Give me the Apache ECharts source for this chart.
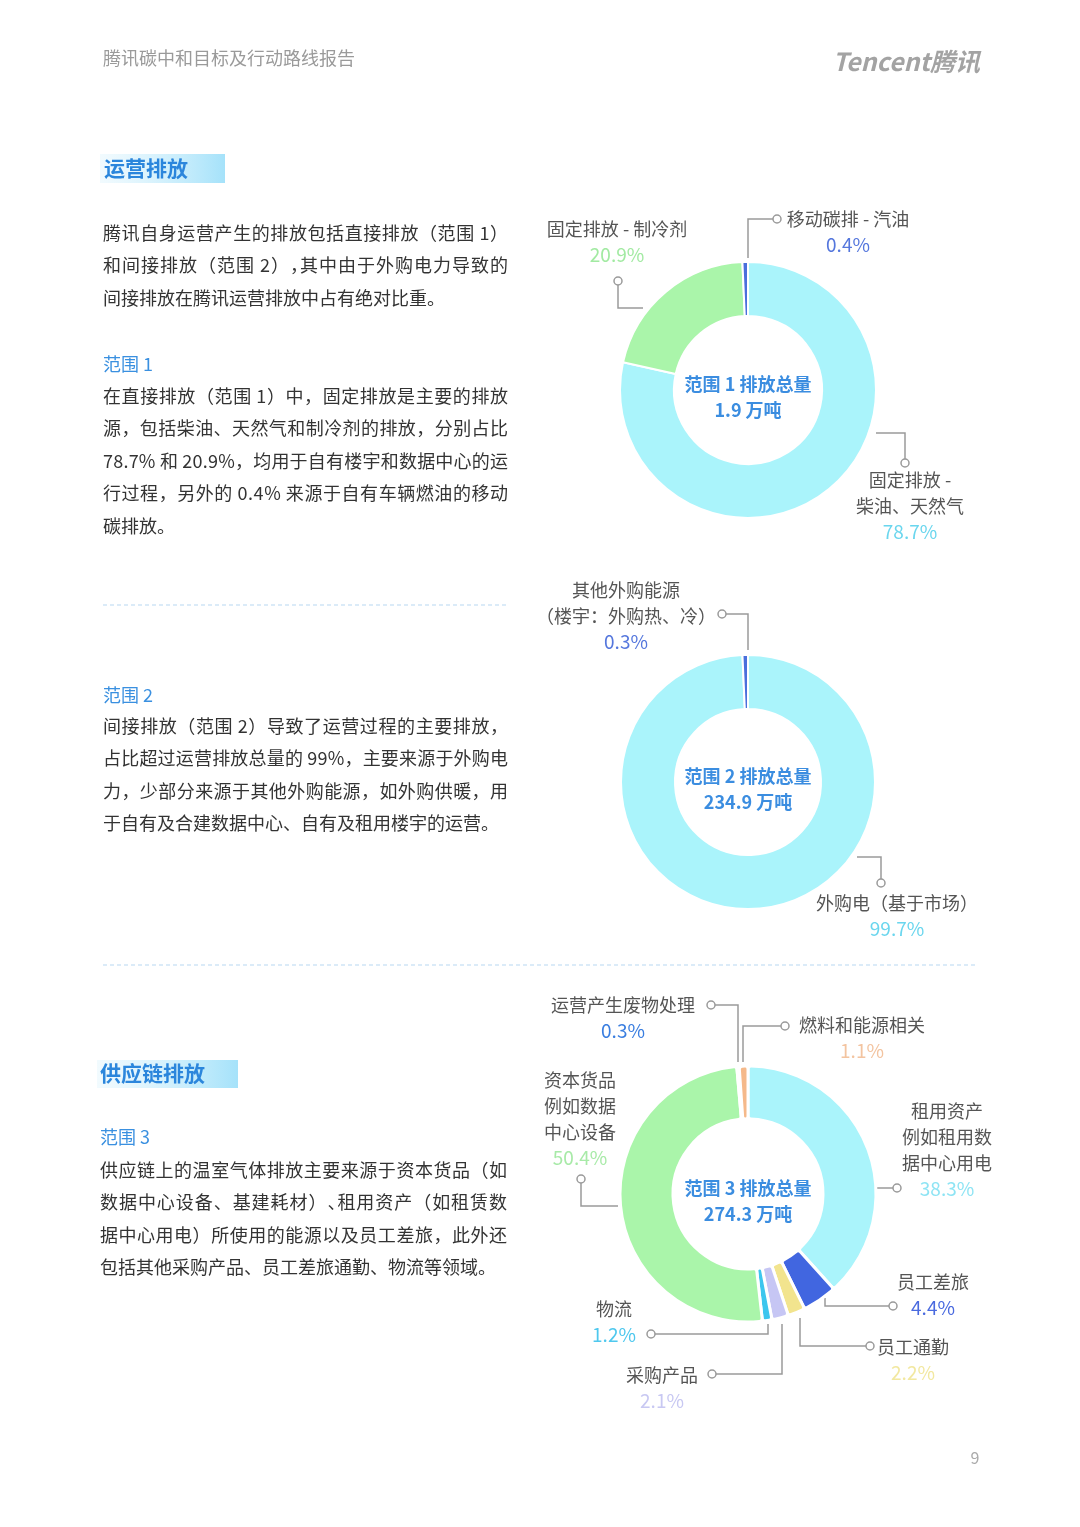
<!DOCTYPE html>
<html>
<head>
<meta charset="UTF-8">
<title>腾讯碳中和目标及行动路线报告</title>
<style>
  html, body { margin: 0; padding: 0; background: #fff; }
  #page { width: 1080px; height: 1527px; }
</style>
</head>
<body>
<div id="page"></div>
<script src="https://cdn.jsdelivr.net/npm/echarts@6/dist/echarts.min.js"></script>
<script>
// ---- data ----
var s1Names = ['固定排放 -\n柴油、天然气', '固定排放 - 制冷剂', '移动碳排 - 汽油'];
var s1Values = [78.7, 20.9, 0.4];
var s2Names = ['外购电（基于市场）', '其他外购能源\n（楼宇：外购热、冷）'];
var s2Values = [99.7, 0.3];
var s3Names = ['租用资产\n例如租用数\n据中心用电', '员工差旅', '员工通勤', '采购产品', '物流',
  '资本货品\n例如数据\n中心设备', '运营产生废物处理', '燃料和能源相关'];
var s3Values = [38.3, 4.4, 2.2, 2.1, 1.2, 50.4, 0.3, 1.1];
var scopeTitles = ['范围 1 排放总量', '范围 2 排放总量', '范围 3 排放总量'];
var scopeTotals = ['1.9 万吨', '234.9 万吨', '274.3 万吨'];

// ---- styles ----
var FONT = '"Noto Sans CJK SC", "Noto Sans", sans-serif';
var s1Colors = ['#aaf4fb', '#aaf5aa', '#4a6fdc'];
var s1Text = ['#6ad6ee', '#a2eaa2', '#5577dd'];
var s2Colors = ['#aaf4fb', '#4a6fdc'];
var s2Text = ['#6ad6ee', '#5577dd'];
var s3Colors = ['#aaf4fb', '#4166e0', '#f2e48e', '#c6c6f4', '#3cc6ee', '#aaf5aa', '#3b7de0', '#f5b98a'];
var s3Text = ['#8ee4f4', '#4a6adf', '#f2e8a0', '#c8c8f2', '#4fc8ee', '#a8eaa8', '#3a7ee0', '#f3c4a0'];

// label block [centerX, topY] and leader line [start, elbow, end]
var s1Lab = [[910, 467], [617, 216], [848, 206]];
var s1Line = [[[876, 433], [905, 433], [905, 463]], [[643, 308], [618, 308], [618, 281]], [[748, 258], [748, 219], [777, 219]]];
var s2Lab = [[897, 890], [626, 577]];
var s2Line = [[[857, 857], [881, 857], [881, 883]], [[748, 650], [748, 614], [722, 614]]];
var s3Lab = [[947, 1098], [933, 1269], [913, 1334], [662, 1362], [614, 1296], [580, 1067], [623, 992], [862, 1012]];
var s3Line = [
  [[877, 1188], [886, 1188], [897, 1188]],
  [[825, 1298], [825, 1306], [893, 1306]],
  [[800, 1318], [800, 1346], [870, 1346]],
  [[782, 1324], [782, 1374], [712, 1374]],
  [[768, 1324], [768, 1334], [651, 1334]],
  [[618, 1206], [581, 1206], [581, 1179]],
  [[738, 1062], [738, 1005], [711, 1005]],
  [[743, 1062], [743, 1026], [785, 1026]]
];

function makePie(names, values, colors, textColors, labPos, linePts, center, radius, extra) {
  var rich = { n: { fontSize: 18, color: '#555', lineHeight: 26, fontFamily: FONT } };
  textColors.forEach(function (c, i) {
    rich['v' + i] = { fontSize: 19, color: c, lineHeight: 26, fontFamily: FONT };
  });
  return {
    type: 'pie',
    center: center,
    radius: radius,
    startAngle: 90,
    clockwise: true,
    minAngle: extra.minAngle,
    avoidLabelOverlap: false,
    silent: true,
    itemStyle: { borderColor: '#fff', borderWidth: extra.border, borderRadius: extra.round },
    label: {
      show: true,
      position: 'outside',
      formatter: function (p) {
        return '{n|' + p.name.split('\n').join('}\n{n|') + '}\n{v' + p.dataIndex + '|' + p.value.toFixed(1) + '%}';
      },
      rich: rich
    },
    labelLine: { show: true, lineStyle: { color: '#9a9a9a', width: 1.5 } },
    labelLayout: function (p) {
      var i = p.dataIndex;
      return {
        x: labPos[i][0], y: labPos[i][1], align: 'center', verticalAlign: 'top',
        labelLinePoints: linePts[i], hideOverlap: false, moveOverlap: false
      };
    },
    data: names.map(function (n, i) {
      return { name: n, value: values[i], itemStyle: { color: colors[i] } };
    })
  };
}

// ---- page text ----
var graphics = [];
var measureCtx = document.createElement('canvas').getContext('2d');

function txt(x, y, s, size, color, weight, align) {
  graphics.push({
    type: 'text', x: x, y: y, z: 10,
    style: {
      text: s, fill: color, textAlign: align || 'left', textVerticalAlign: 'middle',
      font: (weight || 'normal') + ' ' + size + 'px ' + FONT
    }
  });
}
// justified paragraph: every line but the last is stretched to the right edge
function para(x, y0, right, lines) {
  var font = 'normal 18px ' + FONT;
  measureCtx.font = font;
  lines.forEach(function (line, li) {
    var y = y0 + li * 32.5;
    if (li === lines.length - 1) { txt(x, y, line, 18, '#333'); return; }
    var chars = Array.from(line);
    var natural = measureCtx.measureText(line).width;
    var gap = (right - x - natural) / (chars.length - 1);
    chars.forEach(function (ch, k) {
      var off = measureCtx.measureText(chars.slice(0, k).join('')).width;
      txt(x + off + k * gap, y, ch, 18, '#333');
    });
  });
}
function sectionBox(x, y, w, h) {
  graphics.push({
    type: 'rect', z: 1, shape: { x: x, y: y, width: w, height: h },
    style: {
      fill: new echarts.graphic.LinearGradient(0, 0, 1, 0, [
        { offset: 0, color: 'rgba(210,240,252,0.3)' },
        { offset: 1, color: 'rgba(165,226,250,1)' }
      ])
    }
  });
}
function dashed(x1, x2, y) {
  graphics.push({
    type: 'line', z: 1, shape: { x1: x1, y1: y, x2: x2, y2: y },
    style: { stroke: '#cfe5f6', lineWidth: 1.5, lineDash: [4, 3] }
  });
}

txt(103, 58, '腾讯碳中和目标及行动路线报告', 18, '#9a9a9a', 'normal');
graphics.push({
  type: 'text', x: 980, y: 61, z: 10,
  style: { text: 'Tencent腾讯', fill: '#a3a3a3', textAlign: 'right', textVerticalAlign: 'middle',
    font: 'italic bold 25px "Noto Sans CJK SC", sans-serif' }
});

sectionBox(100, 154, 125, 29);
txt(104, 168, '运营排放', 21, '#2b86dc', 'bold');

para(103, 233, 508, ['腾讯自身运营产生的排放包括直接排放（范围 1）',
  '和间接排放（范围 2），其中由于外购电力导致的',
  '间接排放在腾讯运营排放中占有绝对比重。']);

txt(103, 364, '范围 1', 18, '#3a90e0');
para(103, 396, 508, ['在直接排放（范围 1）中，固定排放是主要的排放',
  '源，包括柴油、天然气和制冷剂的排放，分别占比',
  '78.7% 和 20.9%，均用于自有楼宇和数据中心的运',
  '行过程，另外的 0.4% 来源于自有车辆燃油的移动',
  '碳排放。']);

dashed(103, 508, 605);

txt(103, 695, '范围 2', 18, '#3a90e0');
para(103, 726, 508, ['间接排放（范围 2）导致了运营过程的主要排放，',
  '占比超过运营排放总量的 99%，主要来源于外购电',
  '力，少部分来源于其他外购能源，如外购供暖，用',
  '于自有及合建数据中心、自有及租用楼宇的运营。']);

dashed(103, 978, 965);

sectionBox(97, 1060, 141, 28);
txt(100, 1073, '供应链排放', 21, '#2b86dc', 'bold');

txt(100, 1137, '范围 3', 18, '#3a90e0');
para(100, 1170, 507, ['供应链上的温室气体排放主要来源于资本货品（如',
  '数据中心设备、基建耗材）、租用资产（如租赁数',
  '据中心用电）所使用的能源以及员工差旅，此外还',
  '包括其他采购产品、员工差旅通勤、物流等领域。']);

// centre texts of the donuts
var centres = [[748, 390], [748, 782], [748, 1194]];
centres.forEach(function (c, i) {
  txt(c[0], c[1] - 6, scopeTitles[i], 18, '#3b8de0', 'bold', 'center');
  txt(c[0], c[1] + 20, scopeTotals[i], 18, '#3b8de0', 'bold', 'center');
});

// circle ends of leader lines
[s1Line, s2Line, s3Line].forEach(function (set) {
  set.forEach(function (pts) {
    graphics.push({
      type: 'circle', z: 20, shape: { cx: pts[2][0], cy: pts[2][1], r: 4 },
      style: { fill: '#fff', stroke: '#9a9a9a', lineWidth: 1.5 }
    });
  });
});

txt(975, 1458, '9', 16, '#aaa', 'normal', 'center');

var chart = echarts.init(document.getElementById('page'), null, { renderer: 'canvas' });
chart.setOption({
  animation: false,
  backgroundColor: '#fff',
  graphic: graphics,
  series: [
    makePie(s1Names, s1Values, s1Colors, s1Text, s1Lab, s1Line, [748, 390], [74, 128], { minAngle: 2.5, border: 2, round: 0 }),
    makePie(s2Names, s2Values, s2Colors, s2Text, s2Lab, s2Line, [748, 782], [73, 127], { minAngle: 2.5, border: 2, round: 0 }),
    makePie(s3Names, s3Values, s3Colors, s3Text, s3Lab, s3Line, [748, 1194], [75, 128], { minAngle: 0, border: 3, round: 3 })
  ]
});
</script>
</body>
</html>
